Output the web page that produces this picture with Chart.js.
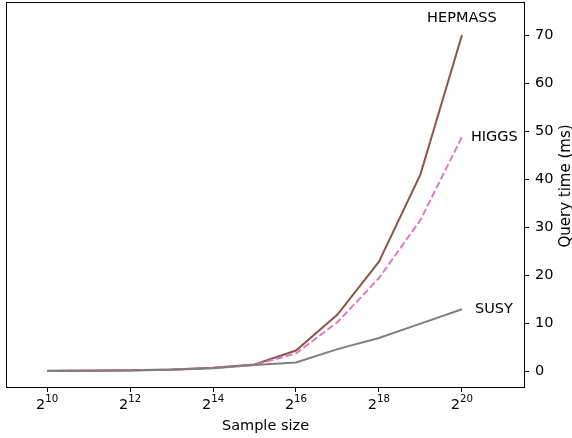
<!DOCTYPE html>
<html><head><meta charset="utf-8">
<script src="https://cdn.jsdelivr.net/npm/chart.js@4"></script>
<style>html,body{margin:0;padding:0;background:#fff}#wrap{width:572px;height:438px}</style>
</head><body><div id="wrap"><canvas id="c" width="572" height="438"></canvas></div>
<script>
// log2 of sample size
const exponents = [10, 11, 12, 13, 14, 15, 16, 17, 18, 19, 20];
const hepmass = [0.1, 0.15, 0.2, 0.35, 0.7, 1.4, 4.3, 11.8, 22.8, 41.0, 70.0];
const higgs   = [0.05, 0.1, 0.2, 0.3, 0.65, 1.3, 3.7, 10.2, 19.4, 31.5, 48.8];
const susy    = [0.02, 0.05, 0.15, 0.3, 0.6, 1.3, 1.8, 4.6, 6.9, 9.9, 12.9];
const seriesNames = ['HEPMASS', 'HIGGS', 'SUSY'];
const xTickExponents = [10, 12, 14, 16, 18, 20];
const yTickValues = [0, 10, 20, 30, 40, 50, 60, 70];
const xTitle = 'Sample size';
const yTitle = 'Query time (ms)';

const FONT = "'DejaVu Sans', sans-serif";
const FS = 14.5;
const toPts = arr => exponents.map((e, i) => ({x: e, y: arr[i]}));

const customText = {
  id: 'customText',
  afterDatasetsDraw(chart) {
    const {ctx, chartArea: a, scales: {x, y}} = chart;
    ctx.save();
    // frame
    ctx.strokeStyle = '#000';
    ctx.lineWidth = 1;
    ctx.strokeRect(a.left + 0.5, a.top + 0.5, a.right - a.left - 1, a.bottom - a.top - 1);
    ctx.fillStyle = '#000';
    // series labels
    ctx.font = FS + 'px ' + FONT;
    ctx.textBaseline = 'middle';
    const last = exponents.length - 1;
    const xl = x.getPixelForValue(exponents[last]);
    ctx.textAlign = 'center';
    ctx.fillText(seriesNames[0], xl, y.getPixelForValue(hepmass[last]) - 17);
    ctx.textAlign = 'left';
    ctx.fillText(seriesNames[1], xl + 9, y.getPixelForValue(higgs[last]));
    ctx.fillText(seriesNames[2], xl + 13, y.getPixelForValue(susy[last]));
    // x tick labels 2^n
    ctx.textBaseline = 'alphabetic';
    xTickExponents.forEach(e => {
      const px = x.getPixelForValue(e);
      ctx.font = FS + 'px ' + FONT;
      const wb = ctx.measureText('2').width;
      ctx.font = '10.2px ' + FONT;
      const we = ctx.measureText(String(e)).width;
      const left = px - (wb + we) / 2;
      ctx.textAlign = 'left';
      ctx.font = FS + 'px ' + FONT;
      ctx.fillText('2', left, a.bottom + 21);
      ctx.font = '10.2px ' + FONT;
      ctx.fillText(String(e), left + wb, a.bottom + 14);
    });
    // x title
    ctx.font = FS + 'px ' + FONT;
    ctx.textAlign = 'center';
    ctx.fillText(xTitle, (a.left + a.right) / 2, a.bottom + 42);
    // y title, reading bottom-to-top
    ctx.font = '15px ' + FONT;
    ctx.translate(569.5, 186);
    ctx.rotate(-Math.PI / 2);
    ctx.textBaseline = 'alphabetic';
    ctx.fillText(yTitle, 0, 0);
    ctx.restore();
  }
};

new Chart(document.getElementById('c'), {
  type: 'line',
  data: {
    datasets: [
      {label: seriesNames[0], data: toPts(hepmass), borderColor: '#8c564b', borderWidth: 2, pointRadius: 0, order: 2, tension: 0},
      {label: seriesNames[1], data: toPts(higgs), borderColor: '#e377c2', borderWidth: 2, borderDash: [7, 3], pointRadius: 0, order: 1, tension: 0},
      {label: seriesNames[2], data: toPts(susy), borderColor: '#7f7f7f', borderWidth: 2, pointRadius: 0, order: 0, tension: 0}
    ]
  },
  options: {
    responsive: false,
    animation: false,
    devicePixelRatio: 1,
    layout: {padding: {left: 6, top: 2, right: 0, bottom: 0}},
    plugins: {legend: {display: false}, tooltip: {enabled: false}},
    scales: {
      x: {
        type: 'linear', position: 'bottom', min: 9.01, max: 21.52,
        afterBuildTicks: s => { s.ticks = xTickExponents.map(v => ({value: v})); },
        afterFit: s => { s.height = 50; s.paddingLeft = 0; s.paddingRight = 0; },
        grid: {display: true, drawOnChartArea: false, drawTicks: true, tickLength: 4, color: '#000'},
        border: {display: false},
        ticks: {display: false}
      },
      y: {
        type: 'linear', position: 'right', min: -3.5, max: 76.9,
        afterBuildTicks: s => { s.ticks = yTickValues.map(v => ({value: v})); },
        afterFit: s => { s.width = 47; s.paddingTop = 0; s.paddingBottom = 0; },
        grid: {display: true, drawOnChartArea: false, drawTicks: true, tickLength: 4, color: '#000'},
        border: {display: false},
        ticks: {color: '#000', font: {family: FONT, size: FS}, padding: 6}
      }
    }
  },
  plugins: [customText]
});
</script>
</body></html>
